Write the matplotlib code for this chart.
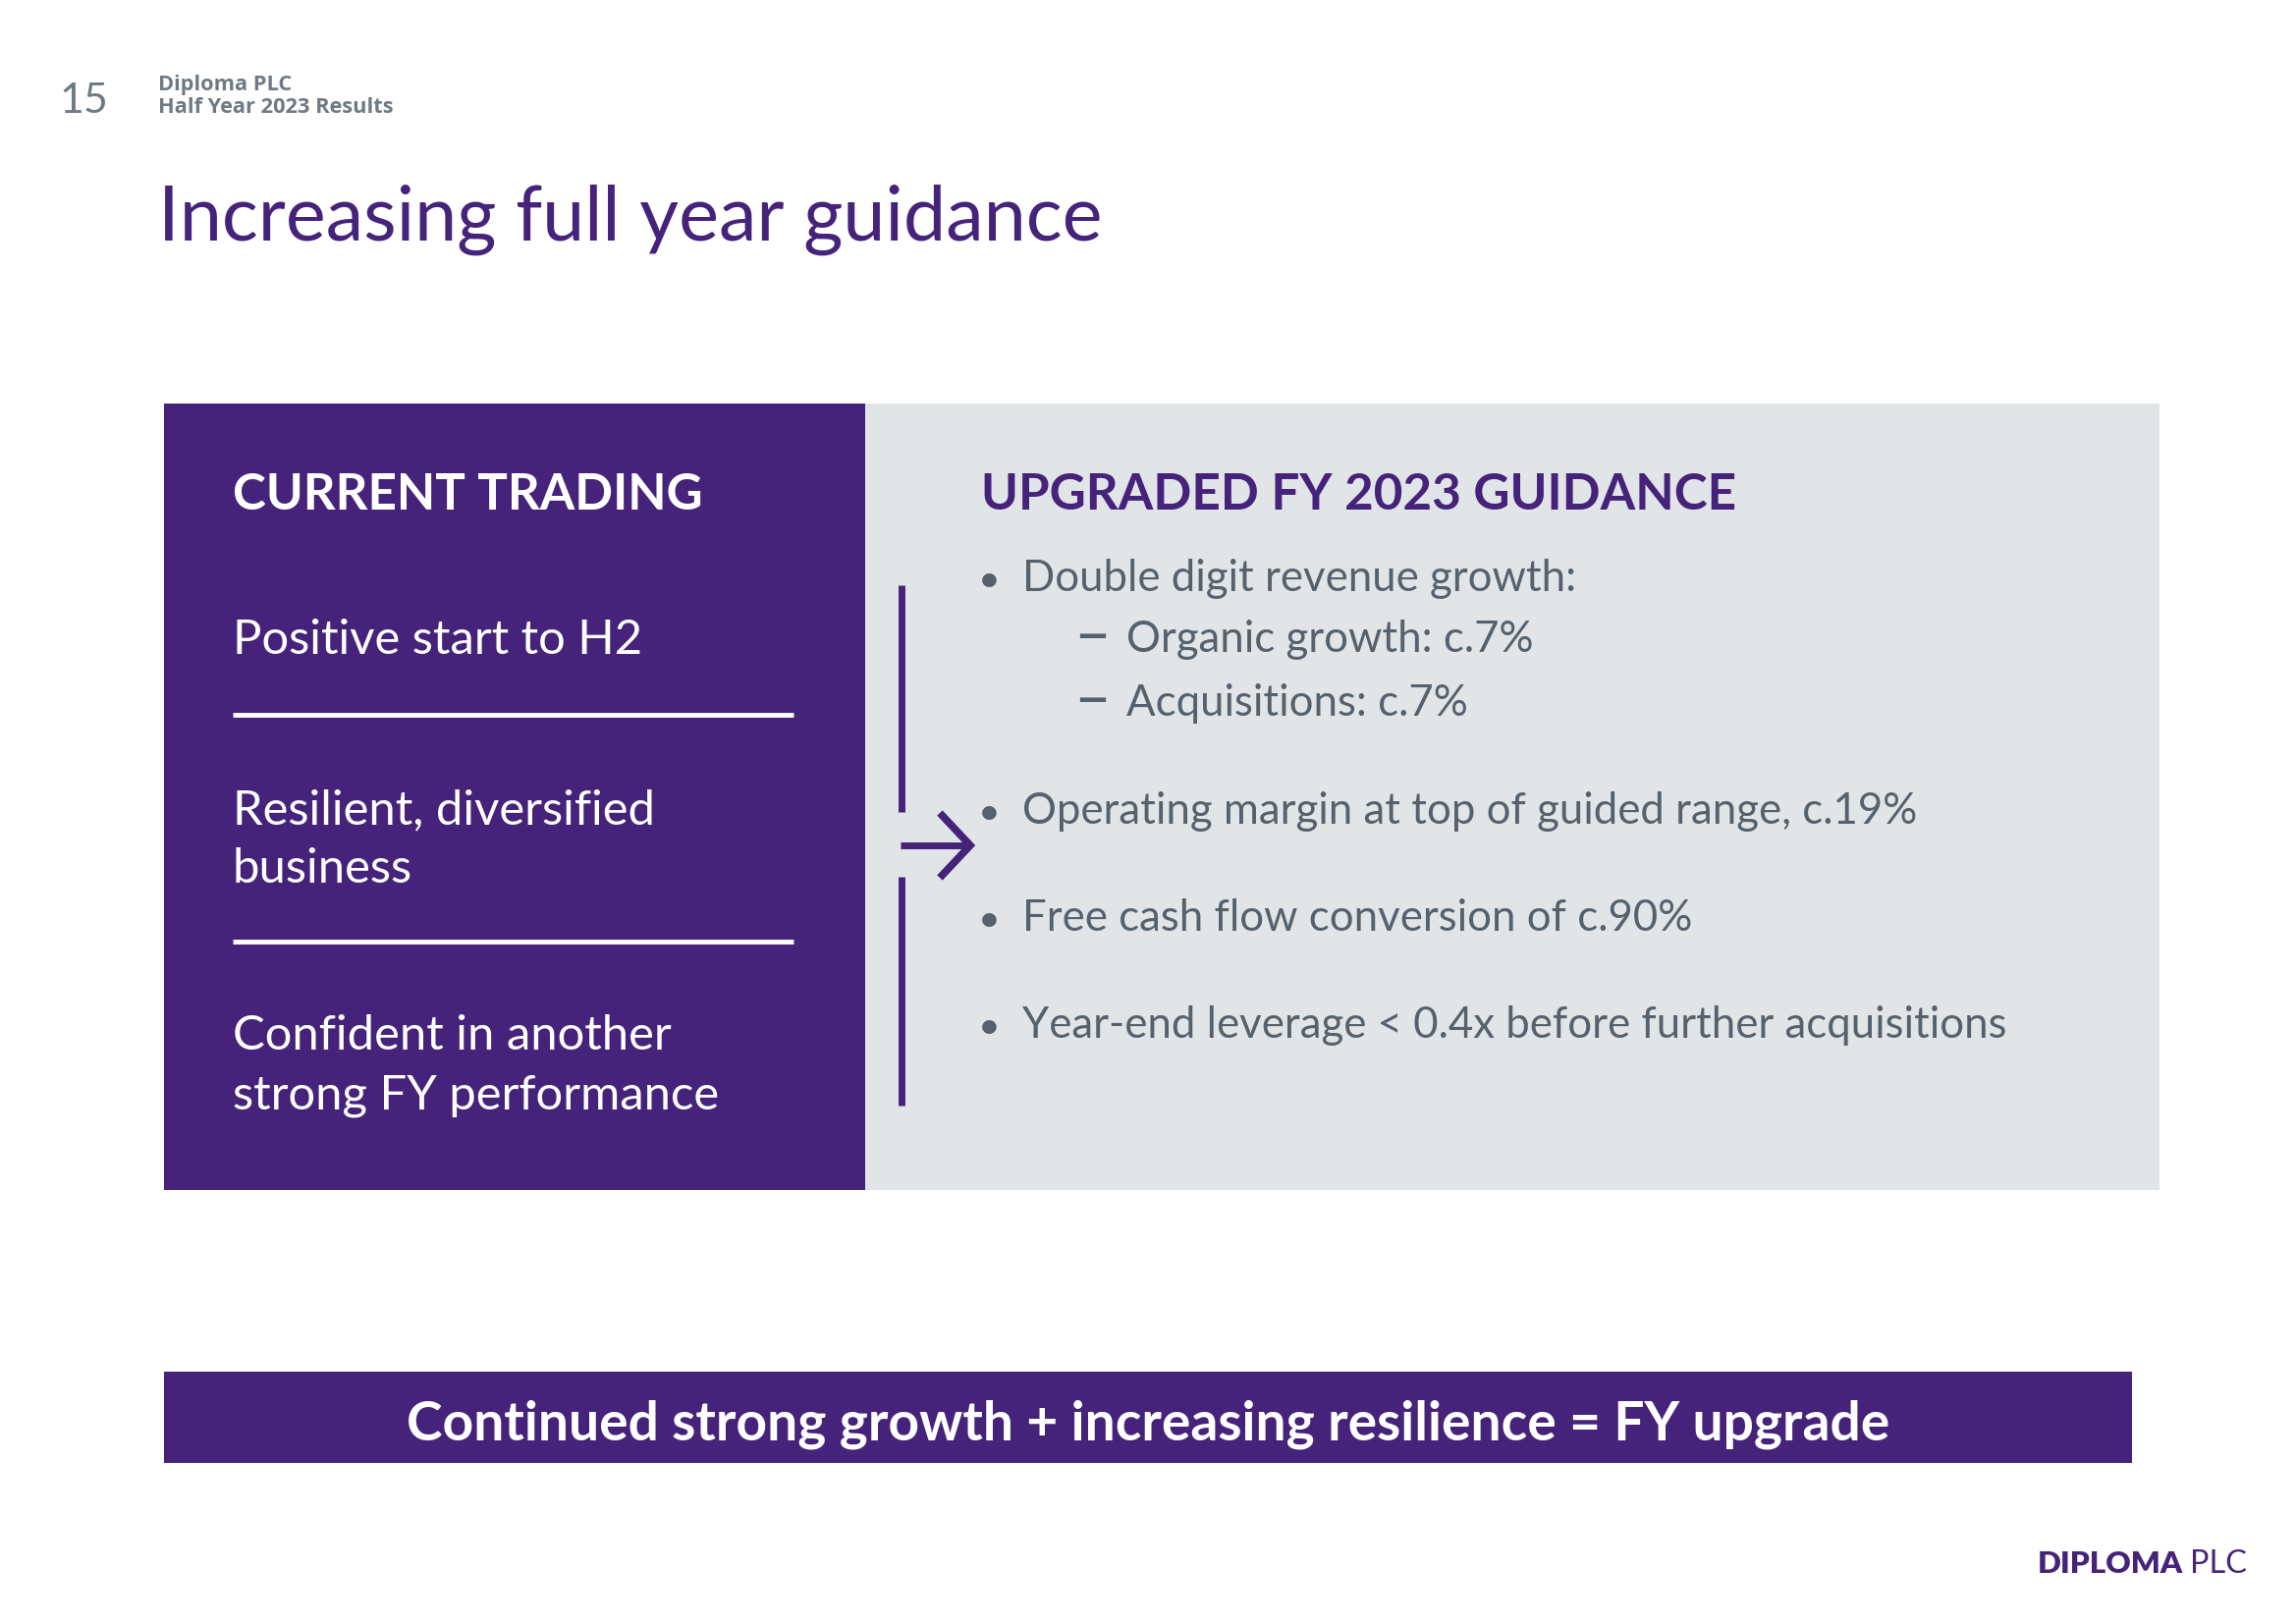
import matplotlib.pyplot as plt
from matplotlib.patches import Rectangle

# slide size in pixels (dpi 100)
W, H = 2338, 1653
PURPLE = '#46237a'
PANEL = '#e2e5e8'
BODY = '#55626e'
HEAD = '#6f7a85'
FONT = 'Lato'

page_number = '15'
header_lines = ['Diploma PLC', 'Half Year 2023 Results']
title = 'Increasing full year guidance'

left_heading = 'CURRENT TRADING'
left_items = [
    ['Positive start to H2'],
    ['Resilient, diversified', 'business'],
    ['Confident in another', 'strong FY performance'],
]

right_heading = 'UPGRADED FY 2023 GUIDANCE'
# (level, text): level 0 = bullet, level 1 = dash sub-item
guidance = [
    (0, 'Double digit revenue growth:'),
    (1, 'Organic growth: c.7%'),
    (1, 'Acquisitions: c.7%'),
    (0, 'Operating margin at top of guided range, c.19%'),
    (0, 'Free cash flow conversion of c.90%'),
    (0, 'Year-end leverage < 0.4x before further acquisitions'),
]
guidance_baselines = [602, 664, 729, 839, 948, 1057]

banner = 'Continued strong growth + increasing resilience = FY upgrade'
logo = ('DIPLOMA', 'PLC')

fig = plt.figure(figsize=(W / 100, H / 100), dpi=100)
ax = fig.add_axes([0, 0, 1, 1])
ax.set_xlim(0, W)
ax.set_ylim(H, 0)
ax.axis('off')
renderer = fig.canvas.get_renderer()


def fit_size(s, width, **kw):
    # font size that makes s about `width` pixels wide
    t = ax.text(0, 0, s, fontsize=20, **kw)
    w = t.get_window_extent(renderer).width
    t.remove()
    return 20 * width / w


# header
ax.text(60, 115, page_number, fontsize=fit_size(page_number, 50, family=FONT),
        family=FONT, color=HEAD, va='baseline')
hsize = fit_size(header_lines[1], 239, family='Open Sans', weight='bold')
for line, y in zip(header_lines, [92, 115]):
    ax.text(161, y, line, fontsize=hsize, family='Open Sans', weight='bold',
            color=HEAD, va='baseline')

ax.text(161, 245, title, fontsize=fit_size(title, 965, family=FONT),
        family=FONT, color=PURPLE, va='baseline')

# boxes
ax.add_patch(Rectangle((167, 411), 714, 801, color=PURPLE, lw=0))
ax.add_patch(Rectangle((881, 411), 1318, 801, color=PANEL, lw=0))

# left panel
ax.text(237, 519, left_heading,
        fontsize=fit_size(left_heading, 479, family=FONT, weight='bold'),
        family=FONT, weight='bold', color='white', va='baseline')
lsize = fit_size(left_items[2][1], 497, family=FONT)
item_baselines = [666, 839, 1069]
for lines, y0 in zip(left_items, item_baselines):
    for k, line in enumerate(lines):
        ax.text(237, y0 + 60 * k, line, fontsize=lsize, family=FONT,
                color='white', va='baseline')
for y in [728, 959]:
    ax.plot([237, 808], [y, y], color='white', lw=3.5, solid_capstyle='butt')

# right panel
ax.text(999, 519, right_heading,
        fontsize=fit_size(right_heading, 769, family=FONT, weight='bold'),
        family=FONT, weight='bold', color=PURPLE, va='baseline')
bsize = fit_size(guidance[-1][1], 1005, family=FONT)
for (level, text), y in zip(guidance, guidance_baselines):
    if level == 0:
        ax.text(1007, y, '\u2022', fontsize=bsize * 0.9, family=FONT,
                color=BODY, va='baseline', ha='center')
        ax.text(1041, y, text, fontsize=bsize, family=FONT, color=BODY,
                va='baseline')
    else:
        ax.text(1112, y + 3, '\u2013', fontsize=bsize * 1.5, family=FONT,
                color=BODY, va='baseline', ha='center')
        ax.text(1147, y, text, fontsize=bsize, family=FONT, color=BODY,
                va='baseline')

# bracket and arrow
ax.plot([918, 918], [596, 827], color=PURPLE, lw=5, solid_capstyle='butt')
ax.plot([918, 918], [893, 1126], color=PURPLE, lw=5, solid_capstyle='butt')
ax.plot([917, 986], [861, 861], color=PURPLE, lw=5, solid_capstyle='butt')
ax.plot([957, 988, 957], [828, 861, 894], color=PURPLE, lw=5.5,
        solid_joinstyle='miter', solid_capstyle='butt')

# bottom banner
ax.add_patch(Rectangle((167, 1397), 2004, 93, color=PURPLE, lw=0))
ax.text(1169, 1466, banner,
        fontsize=fit_size(banner, 1512, family=FONT, weight='bold'),
        family=FONT, weight='bold', color='white', va='baseline', ha='center')

# logo
ax.text(2075, 1602, logo[0],
        fontsize=fit_size(logo[0], 148, family=FONT, weight='heavy'),
        family=FONT, weight='heavy', color=PURPLE, va='baseline')
ax.text(2230, 1602, logo[1], fontsize=fit_size(logo[1], 58, family=FONT),
        family=FONT, color=PURPLE, va='baseline')

fig.savefig('out.png', dpi=100, facecolor='white')
